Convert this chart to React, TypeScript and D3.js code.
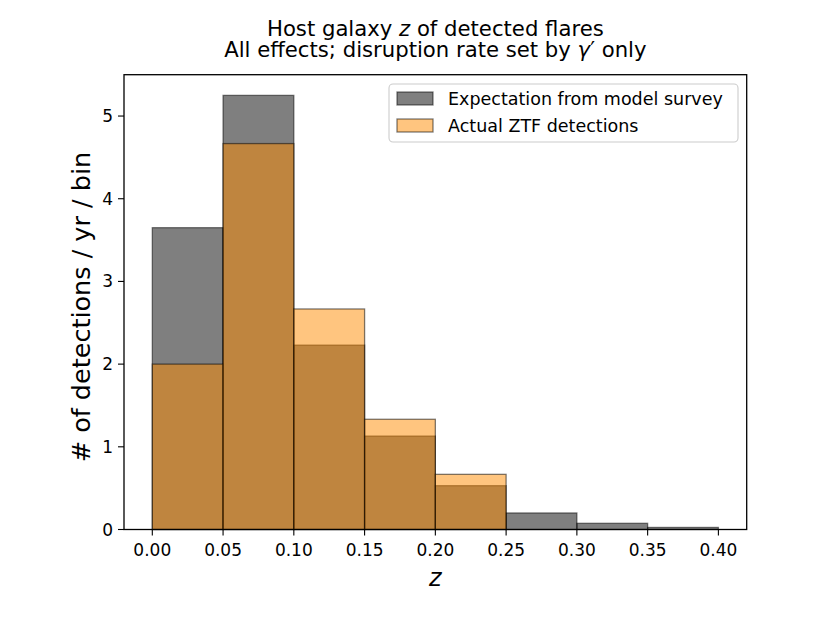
import React from "react";
import * as d3 from "d3";

const binEdges = [0.0, 0.05, 0.1, 0.15, 0.2, 0.25, 0.3, 0.35, 0.4];
const modelCounts = [3.65, 5.25, 2.23, 1.13, 0.53, 0.2, 0.075, 0.025];
const ztfCounts = [2.0, 4.667, 2.667, 1.333, 0.667, 0, 0, 0];
const xTicks = [0.0, 0.05, 0.1, 0.15, 0.2, 0.25, 0.3, 0.35, 0.4];
const yTicks = [0, 1, 2, 3, 4, 5];
const seriesNames = ["Expectation from model survey", "Actual ZTF detections"];

const W = 830;
const H = 623;
const left = 124;
const right = 746.7;
const top = 74.7;
const bottom = 529.5;
const FONT = "'DejaVu Sans', sans-serif";

export default function App() {
  const x = d3.scaleLinear().domain([-0.02, 0.42]).range([left, right]);
  const y = d3.scaleLinear().domain([0, 5.5]).range([bottom, top]);
  const cx = (left + right) / 2;

  const bars = (vals: number[], fill: string, key: string) =>
    vals.map((v, i) => {
      if (v <= 0) return null;
      const x0 = x(binEdges[i]);
      const x1 = x(binEdges[i + 1]);
      return (
        <rect
          key={key + i}
          x={x0}
          y={y(v)}
          width={x1 - x0}
          height={y(0) - y(v)}
          fill={fill}
          fillOpacity={0.5}
          stroke="#000"
          strokeOpacity={0.5}
          strokeWidth={1.3}
        />
      );
    });

  return (
    <svg width={W} height={H} style={{ position: "absolute", left: 0, top: 0 }} fontFamily={FONT}>
      <rect width={W} height={H} fill="#fff" />
      <text textAnchor="middle" fontSize={21.2} fill="#000">
        <tspan x={cx} y={35.5}>
          Host galaxy <tspan fontStyle="italic">z</tspan> of detected flares
        </tspan>
        <tspan x={cx} y={56.5}>
          All effects; disruption rate set by <tspan fontStyle="italic">γ</tspan>′ only
        </tspan>
      </text>

      {bars(modelCounts, "#000", "m")}
      {bars(ztfCounts, "#ff8c00", "z")}

      <rect x={left} y={top} width={right - left} height={bottom - top} fill="none" stroke="#000" strokeWidth={1.3} />

      {xTicks.map((t) => (
        <g key={"xt" + t}>
          <line x1={x(t)} x2={x(t)} y1={bottom} y2={bottom + 6} stroke="#000" strokeWidth={1.1} />
          <text x={x(t)} y={bottom + 26} textAnchor="middle" fontSize={17} fill="#000">
            {t.toFixed(2)}
          </text>
        </g>
      ))}
      {yTicks.map((t) => (
        <g key={"yt" + t}>
          <line x1={left - 6} x2={left} y1={y(t)} y2={y(t)} stroke="#000" strokeWidth={1.1} />
          <text x={left - 11} y={y(t) + 6} textAnchor="end" fontSize={17} fill="#000">
            {t}
          </text>
        </g>
      ))}

      <text x={cx} y={586} textAnchor="middle" fontSize={24} fontStyle="italic" fill="#000">
        z
      </text>
      <text
        transform={`translate(90, ${(top + bottom) / 2 + 5}) rotate(-90)`}
        textAnchor="middle"
        fontSize={25.5}
        fill="#000"
      >
        # of detections / yr / bin
      </text>

      <g>
        <rect x={389} y={84} width={349} height={58} rx={4} fill="#fff" fillOpacity={0.8} stroke="#ccc" strokeWidth={1.1} />
        <rect x={397} y={92} width={36} height={13} fill="#000" fillOpacity={0.5} stroke="#000" strokeOpacity={0.5} strokeWidth={1.3} />
        <text x={448} y={105} fontSize={17.5} fill="#000">{seriesNames[0]}</text>
        <rect x={397} y={119} width={36} height={13} fill="#ff8c00" fillOpacity={0.5} stroke="#000" strokeOpacity={0.5} strokeWidth={1.3} />
        <text x={448} y={132} fontSize={17.5} fill="#000">{seriesNames[1]}</text>
      </g>
    </svg>
  );
}
